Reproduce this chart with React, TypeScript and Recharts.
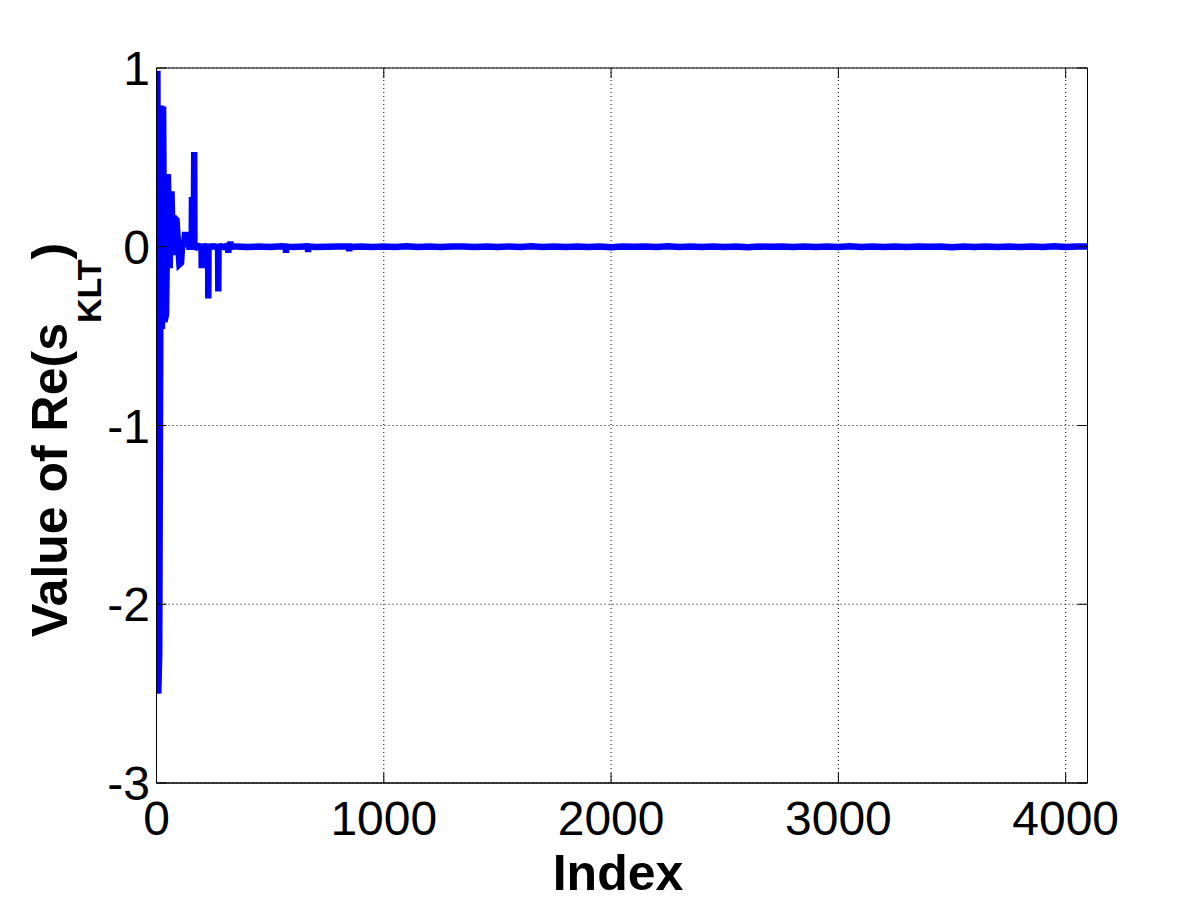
import React from 'react'
import { LineChart, Line, XAxis, YAxis, CartesianGrid, ReferenceArea } from 'recharts'

const X_TICKS = [0, 1000, 2000, 3000, 4000]
const Y_TICKS = [-3, -2, -1, 0, 1]
const X_MAX = 4096

// first few hundred coefficients
const HEAD_INDEX = [
  0, 4, 8, 12, 20, 24, 29, 35, 42, 50, 58, 66, 72, 80, 88, 95, 101, 108, 114, 120,
  125, 138, 144, 155, 156, 165, 166, 167, 176, 186, 198, 199, 200, 212, 227, 228, 229,
  240, 252, 262, 271, 272, 273, 284, 296, 306, 315, 316, 317, 324, 325, 326, 336,
]
const HEAD_VALUE = [
  0.35, 0.985, -2.5, -2.27, 0.79, -0.46, 0.785, -0.42, -0.38, 0.407, -0.12, 0.31, -0.046, 0.16, 0.15, 0.01, -0.098, -0.09, 0.03, 0.0,
  0.066, 0.066, 0.0, 0.0, 0.26, 0.26, 0.53, 0.0, -0.004, 0.003, 0.0, -0.12, 0.0, 0.002, 0.0, -0.29, 0.0,
  0.002, 0.003, -0.002, 0.0, -0.25, 0.0, 0.002, -0.002, 0.003, 0.0, -0.035, 0.0, 0.0, 0.03, 0.0, 0.001,
]

// flat part, one reading every 50 samples
const TAIL_START = 350
const TAIL_STEP = 50
const TAIL_VALUE = [
  0.002, -0.001, 0.001, -0.002, 0.003, -0.001, 0.002, -0.002, 0.0, 0.002,
  -0.002, 0.001, -0.002, 0.002, -0.001, 0.003, -0.002, 0.001, -0.002, 0.002,
  0.001, -0.002, 0.002, -0.001, 0.002, -0.002, 0.003, -0.001, 0.001, -0.002,
  0.002, -0.001, 0.002, -0.003, 0.001, 0.0, 0.002, -0.002, 0.003, -0.001,
  0.001, -0.002, 0.002, -0.001, 0.002, -0.003, 0.001, 0.0, 0.002, -0.002,
  0.001, -0.002, 0.002, -0.001, 0.003, -0.002, 0.001, -0.002, 0.002, -0.001,
  0.002, 0.0, 0.001, -0.003, 0.002, -0.002, 0.002, -0.001, 0.001, -0.002,
  0.002, -0.001, 0.003, -0.002, 0.001,
]

// small dips in the flat part
const DIP_INDEX = [569, 570, 571, 666, 667, 668, 847, 848, 849]
const DIP_VALUE = [0.001, -0.035, 0.001, 0.001, -0.03, 0.001, 0.001, -0.025, 0.001]

const LAST_INDEX = 4096
const LAST_VALUE = 0.001

const FONT = '"Liberation Sans", Arial, Helvetica, sans-serif'

// plot box in page pixels
const LEFT = 156.5
const RIGHT = 1087.5
const TOP = 68
const BOTTOM = 783
const TICK_LEN = 10

const data = [
  ...HEAD_INDEX.map((idx, i) => ({ idx, value: HEAD_VALUE[i] })),
  ...TAIL_VALUE.map((value, i) => ({ idx: TAIL_START + i * TAIL_STEP, value })),
  ...DIP_INDEX.map((idx, i) => ({ idx, value: DIP_VALUE[i] })),
  { idx: LAST_INDEX, value: LAST_VALUE },
].sort((a, b) => a.idx - b.idx)

function XTick({ x, y, payload }: any) {
  return (
    <g>
      <line x1={x} x2={x} y1={BOTTOM} y2={BOTTOM - TICK_LEN} stroke="#000" />
      <line x1={x} x2={x} y1={TOP} y2={TOP + TICK_LEN} stroke="#000" />
      <text x={x} y={y} dy="0.71em" textAnchor="middle" fontFamily={FONT} fontSize={48} fill="#000">
        {payload.value}
      </text>
    </g>
  )
}

function YTick({ x, y, payload }: any) {
  return (
    <g>
      <line x1={LEFT} x2={LEFT + TICK_LEN} y1={y} y2={y} stroke="#000" />
      <line x1={RIGHT} x2={RIGHT - TICK_LEN} y1={y} y2={y} stroke="#000" />
      <text x={x} y={y} dy="0.355em" textAnchor="end" fontFamily={FONT} fontSize={48} fill="#000">
        {payload.value}
      </text>
    </g>
  )
}

function XLabel({ viewBox }: any) {
  const cx = viewBox.x + viewBox.width / 2 - 4
  return (
    <text x={cx} y={viewBox.y + 107} textAnchor="middle" fontFamily={FONT} fontWeight="bold" fontSize={50} fill="#000">
      Index
    </text>
  )
}

function YLabel({ viewBox }: any) {
  const sy = viewBox.y + viewBox.height / 2 + 211.5
  const bx = 67
  return (
    <text
      x={bx}
      y={sy}
      transform={`rotate(-90, ${bx}, ${sy})`}
      textAnchor="start"
      fontFamily={FONT}
      fontWeight="bold"
      fontSize={50}
      fill="#000"
    >
      Value of Re(s
      <tspan fontSize={34} dy={34}>KLT</tspan>
      <tspan dy={-34}>)</tspan>
    </text>
  )
}

export default function App() {
  return (
    <div style={{ position: 'absolute', left: 0, top: 0, background: '#fff' }}>
      <LineChart
        width={1201}
        height={901}
        data={data}
        margin={{ top: TOP, right: 1201 - RIGHT, bottom: 8, left: LEFT - 60 }}
      >
        <CartesianGrid stroke="#000" strokeDasharray="1 3" />
        <XAxis
          dataKey="idx"
          type="number"
          domain={[0, X_MAX]}
          ticks={X_TICKS}
          interval={0}
          allowDataOverflow
          height={110}
          stroke="#000"
          tickLine={false}
          tickSize={0}
          tickMargin={18}
          tick={XTick}
          label={XLabel}
        />
        <YAxis
          type="number"
          domain={[-3, 1]}
          ticks={Y_TICKS}
          interval={0}
          allowDataOverflow
          width={60}
          stroke="#000"
          tickLine={false}
          tickSize={0}
          tickMargin={6.5}
          tick={YTick}
          label={YLabel}
        />
        <Line
          type="linear"
          dataKey="value"
          stroke="#0000ff"
          strokeWidth={6.5}
          dot={false}
          activeDot={false}
          isAnimationActive={false}
        />
        <ReferenceArea
          x1={0}
          x2={X_MAX}
          y1={-3}
          y2={1}
          fill="none"
          fillOpacity={0}
          stroke="#000"
          strokeWidth={1}
          ifOverflow="visible"
        />
      </LineChart>
    </div>
  )
}
